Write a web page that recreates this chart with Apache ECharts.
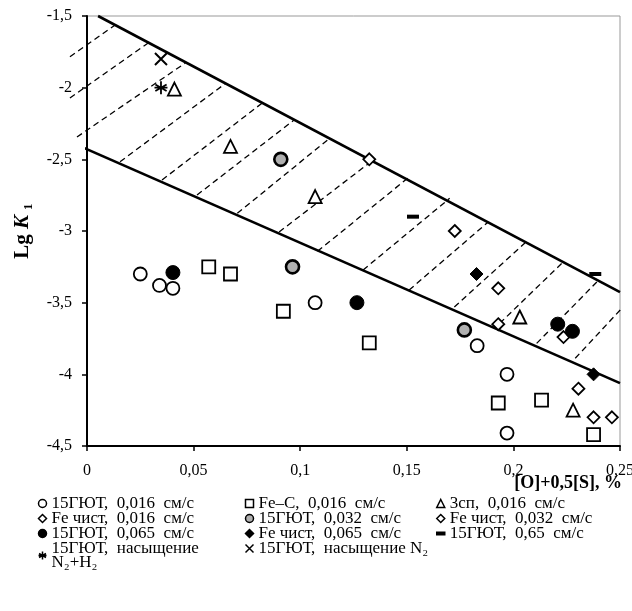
<!DOCTYPE html>
<html><head><meta charset="utf-8">
<script src="https://cdn.jsdelivr.net/npm/echarts@6/dist/echarts.min.js"></script>
<style>html,body{margin:0;padding:0;background:#fff}#c{width:632px;height:611px}</style>
</head><body><div id="c"></div>
<script>
// ---- data (x = [O]+0,5[S], %, y = Lg K1) ----
const xTicks = [0, 0.05, 0.1, 0.15, 0.2, 0.25];
const yTicks = [-4.5, -4, -3.5, -3, -2.5, -2, -1.5];
const gyut016 = [[0.025,-3.30],[0.034,-3.38],[0.0403,-3.40],[0.107,-3.50],[0.183,-3.80],[0.197,-4.00],[0.197,-4.41]];
const feC016 = [[0.0571,-3.25],[0.0673,-3.30],[0.0921,-3.56],[0.1324,-3.78],[0.1929,-4.20],[0.2132,-4.18],[0.2376,-4.42]];
const sp3016 = [[0.041,-2.01],[0.0673,-2.41],[0.107,-2.76],[0.203,-3.60],[0.228,-4.25]];
const fe016 = [[0.1324,-2.50],[0.1725,-3.00],[0.1929,-3.40],[0.1929,-3.65]];
const gyut032 = [[0.0909,-2.50],[0.0964,-3.25],[0.177,-3.69]];
const fe032 = [[0.2235,-3.74],[0.2305,-4.10],[0.2376,-4.30],[0.2462,-4.30]];
const gyut065 = [[0.0403,-3.29],[0.1266,-3.50],[0.2208,-3.65],[0.2277,-3.70]];
const fe065 = [[0.1827,-3.30],[0.2376,-4.00]];
const gyut65 = [[0.1529,-2.90],[0.2384,-3.30]];
const satN2H2 = [[0.0347,-2.00]];
const satN2 = [[0.0347,-1.80]];
const upperLine = [[0.0052,-1.50],[0.25,-3.426]];
const lowerLine = [[-0.0057,-2.393],[0.25,-4.061]];
const hatch = [
  [[-0.0080,-1.784],[0.0132,-1.563]],
  [[-0.0080,-2.072],[0.0287,-1.688]],
  [[-0.0047,-2.344],[0.0461,-1.828]],
  [[0.0155,-2.517],[0.0650,-1.970]],
  [[0.0352,-2.644],[0.0822,-2.107]],
  [[0.0516,-2.749],[0.0971,-2.226]],
  [[0.0705,-2.877],[0.1128,-2.365]],
  [[0.0901,-3.007],[0.1342,-2.505]],
  [[0.1081,-3.142],[0.1513,-2.621]],
  [[0.1295,-3.272],[0.1701,-2.772]],
  [[0.1511,-3.412],[0.1882,-2.937]],
  [[0.1723,-3.530],[0.2054,-3.084]],
  [[0.1936,-3.644],[0.2235,-3.214]],
  [[0.2109,-3.784],[0.2400,-3.342]],
  [[0.2290,-3.888],[0.2501,-3.551]]
];
const names = {
  s1:'15ГЮТ, 0,016 см/с', s2:'Fe–C, 0,016 см/с', s3:'3сп, 0,016 см/с',
  s4:'Fe чист, 0,016 см/с', s5:'15ГЮТ, 0,032 см/с', s6:'Fe чист, 0,032 см/с',
  s7:'15ГЮТ, 0,065 см/с', s8:'Fe чист, 0,065 см/с', s9:'15ГЮТ, 0,65 см/с',
  s10:'15ГЮТ, насыщение N₂+H₂', s11:'15ГЮТ, насыщение N₂'
};
const xAxisTitle = '[O]+0,5[S], %';

const SERIF = '"Liberation Serif","DejaVu Serif",serif';
const fmt = v => String(Math.round(v*1000)/1000).replace('.', ',');
const X_PATH = 'path://M0,0L10,10M10,0L0,10';
const AST_PATH = 'path://M5,0L5,10M0.67,2.5L9.33,7.5M0.67,7.5L9.33,2.5M0,5L10,5';

function sc(name, data, symbol, size, color, bw) {
  return { type:'scatter', name, data, symbol, symbolSize:size, z:5,
    itemStyle:{ color, borderColor:'#000', borderWidth:bw, opacity:1 } };
}
const wide = s => s.replace(/, /g, ',  ').replace(/ см/g, '  см');

const chart = echarts.init(document.getElementById('c'), null, {renderer:'canvas'});
const legendText = { fontFamily:SERIF, fontSize:17, color:'#000', lineHeight:14 };
const legendCommon = { orient:'vertical', itemGap:-2, itemWidth:8, itemHeight:8, textStyle:legendText,
  selectedMode:false, padding:0, itemStyle:{borderWidth:1.5},
  formatter: n => n === names.s10 ? '15ГЮТ,  насыщение\nN₂+H₂' : wide(n) };

chart.setOption({
  animation:false,
  backgroundColor:'#fff',
  grid:{ left:87, right:12, top:16, bottom:165, show:true, borderColor:'#999', borderWidth:1, containLabel:false, outerBoundsMode:'none' },
  xAxis:{ type:'value', min:xTicks[0], max:xTicks[xTicks.length-1], interval:0.05,
    axisLine:{ show:true, onZero:false, lineStyle:{ color:'#000', width:2 } },
    axisTick:{ show:true, inside:false, length:5, lineStyle:{ color:'#000', width:1.5 } },
    splitLine:{ show:false },
    axisLabel:{ margin:17, fontFamily:SERIF, fontSize:16, color:'#000', formatter:fmt }
  },
  yAxis:{ type:'value', min:yTicks[0], max:yTicks[yTicks.length-1], interval:0.5,
    axisLine:{ show:true, onZero:false, lineStyle:{ color:'#000', width:2 } },
    axisTick:{ show:true, inside:false, length:5, lineStyle:{ color:'#000', width:1.5 } },
    splitLine:{ show:false },
    axisLabel:{ margin:15, fontFamily:SERIF, fontSize:16, color:'#000', formatter:fmt },
    name:'{a|Lg }{b|K}{a| ₁}', nameLocation:'middle', nameGap:54, nameRotate:90,
    nameTextStyle:{ rich:{
      a:{ fontFamily:SERIF, fontSize:21, fontWeight:'bold', color:'#000' },
      b:{ fontFamily:SERIF, fontSize:21, fontWeight:'bold', fontStyle:'italic', color:'#000' } } }
  },
  graphic:[{ type:'text', right:10, top:474, silent:true,
    style:{ text:xAxisTitle, font:'bold 18px "Liberation Serif", serif', fill:'#000' } }],
  legend:[
    Object.assign({ left:36, top:495, data:[names.s1, names.s4, names.s7, names.s10] }, legendCommon),
    Object.assign({ left:243, top:495, data:[names.s2, names.s5, names.s8, names.s11] }, legendCommon),
    Object.assign({ left:436, top:495, data:[names.s3, names.s6, { name:names.s9, icon:'path://M0,0H10V3H0Z' }] }, legendCommon)
  ],
  series:[
    { type:'line', data:upperLine, symbol:'none', clip:false, silent:true, z:3, lineStyle:{ color:'#000', width:2.6 } },
    { type:'line', data:lowerLine, symbol:'none', clip:false, silent:true, z:3, lineStyle:{ color:'#000', width:2.6 } },
    { type:'lines', coordinateSystem:'cartesian2d', clip:false, silent:true, z:2,
      data: hatch.map(c => ({ coords:c })),
      lineStyle:{ color:'#000', width:1.3, type:[6,4], opacity:1 } },
    sc(names.s1, gyut016, 'circle', 13, '#fff', 1.8),
    sc(names.s2, feC016, 'rect', 13, '#fff', 1.8),
    sc(names.s3, sp3016, 'triangle', 13, '#fff', 1.8),
    sc(names.s4, fe016, 'diamond', 12, '#fff', 1.8),
    sc(names.s5, gyut032, 'circle', 13, '#b0b0b0', 2.6),
    sc(names.s6, fe032, 'diamond', 12, '#fff', 1.8),
    sc(names.s7, gyut065, 'circle', 14, '#000', 1),
    sc(names.s8, fe065, 'diamond', 13, '#000', 1),
    sc(names.s9, gyut65, 'rect', [12,4], '#000', 0),
    sc(names.s10, satN2H2, AST_PATH, 13, 'none', 1.8),
    sc(names.s11, satN2, X_PATH, 12, 'none', 2)
  ]
});
</script></body></html>
